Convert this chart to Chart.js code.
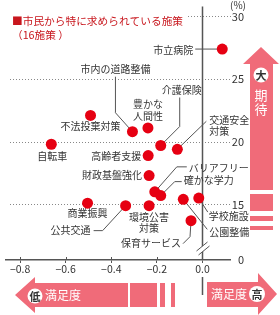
<!DOCTYPE html>
<html>
<head>
<meta charset="utf-8">
<script src="https://cdn.jsdelivr.net/npm/chart.js@4"></script>
<style>
  html, body { margin: 0; padding: 0; background: #fff; }
</style>
</head>
<body>
<canvas id="policyChart" width="280" height="315"></canvas>
<script>
// policies with satisfaction (x) and expectation % (y)
const policies = ['市立病院', '市内の道路整備', '豊かな人間性', '介護保険', '交通安全対策',
  '高齢者支援', '財政基盤強化', 'バリアフリー', '確かな学力', '商業振興', '公共交通',
  '環境公害対策', '公園整備', '学校施設', '保育サービス', '不法投棄対策', '自転車'];
const satisfaction = [0.087, -0.307, -0.239, -0.183, -0.110,
  -0.238, -0.234, -0.209, -0.183, -0.504, -0.337,
  -0.234, -0.084, -0.016, -0.050, -0.491, -0.663];
const expectation = [27.4, 20.8, 21.1, 19.7, 19.4,
  18.9, 17.3, 16.0, 15.7, 15.1, 14.9,
  14.9, 15.4, 15.5, 13.7, 22.1, 19.8];
const satTicks = [-0.8, -0.6, -0.4, -0.2, 0];
const expectTicks = [0, 15, 20, 25, 30];

// broken axis: the bottom of the axis stands for 0
const Y_MIN = 10.56, Y_MAX = 30.79;
const X_MIN = -0.864, X_MAX = 0.121;

const FONT = "'Noto Sans CJK JP', 'Noto Sans', sans-serif";
const PINK = '#f06b79';
const RED = '#e60012';
const INK = '#333';
const AXIS = '#555';

// label placement relative to each point (same order as policies)
const labelLayout = [
  { dx: -29, dy: 1, align: 'right', lead: [[-27, 0]] },
  { dx: -52, dy: -63, align: 'left', lead: [[-17, -55], [-17, -19]] },
  { dx: -15, dy: -24, align: 'left', br: 3, gap: 12 },
  { dx: 1, dy: -55, align: 'left', lead: [[19, -48], [19, -19]] },
  { dx: 32, dy: -29, align: 'left', br: 4, lead: [[29, -28]] },
  { dx: -7, dy: 1, align: 'right' },
  { dx: -7, dy: 0, align: 'right' },
  { dx: 34, dy: -24, align: 'left', lead: [[32, -25], [22, -25]] },
  { dx: 23, dy: -15, align: 'left', lead: [[21, -14], [14, -14]] },
  { dx: 0, dy: 10, align: 'center' },
  { dx: -35, dy: 25, align: 'right', lead: [[-32, 25], [-23, 25]] },
  { dx: 0, dy: 12, align: 'center', br: 4 },
  { dx: 26, dy: 33, align: 'left', lead: [[24, 30]] },
  { dx: 10, dy: 18, align: 'left', lead: [[9, 14]] },
  { dx: -10, dy: 23, align: 'right', lead: [[-8, 23], [-1, 16]] },
  { dx: 0, dy: 11, align: 'center' },
  { dx: 1, dy: 12, align: 'center' }
];

function fillPoly(ctx, pts) {
  ctx.beginPath();
  pts.forEach(([a, b], k) => k ? ctx.lineTo(a, b) : ctx.moveTo(a, b));
  ctx.closePath();
  ctx.fill();
}

function badge(ctx, cx, cy, r, ch) {
  ctx.fillStyle = '#fff';
  ctx.beginPath();
  ctx.arc(cx, cy, r, 0, Math.PI * 2);
  ctx.fill();
  ctx.fillStyle = INK;
  ctx.font = 'bold 11px ' + FONT;
  ctx.textAlign = 'center';
  ctx.textBaseline = 'middle';
  ctx.fillText(ch, cx, cy + 0.5);
}

const decorations = {
  id: 'decorations',
  beforeDatasetsDraw(chart) {
    const ctx = chart.ctx;
    const xs = chart.scales.x, ys = chart.scales.y, area = chart.chartArea;
    const x0 = Math.round(xs.getPixelForValue(0)) + 0.5;
    ctx.save();

    // dotted grid
    ctx.strokeStyle = '#888';
    ctx.lineWidth = 1;
    ctx.setLineDash([1, 2]);
    expectTicks.filter(v => v > 0).forEach(v => {
      const py = Math.round(ys.getPixelForValue(v)) + 0.5;
      ctx.beginPath();
      ctx.moveTo(v === 30 ? 188 : 10, py);
      ctx.lineTo(area.right + 2, py);
      ctx.stroke();
    });
    ctx.setLineDash([]);

    // vertical axis at 0.0
    ctx.strokeStyle = AXIS;
    ctx.lineWidth = 1.5;
    ctx.beginPath();
    ctx.moveTo(x0, area.top);
    ctx.lineTo(x0, area.bottom);
    ctx.moveTo(x0, 277);
    ctx.lineTo(x0, 295);
    ctx.stroke();

    // axis break
    ctx.fillStyle = '#fff';
    fillPoly(ctx, [[x0 - 6, 251], [x0 + 5, 242], [x0 + 7, 246], [x0 - 4, 255]]);
    ctx.lineWidth = 1;
    ctx.beginPath();
    ctx.moveTo(x0 - 6, 251); ctx.lineTo(x0 + 5, 242);
    ctx.moveTo(x0 - 4, 255); ctx.lineTo(x0 + 7, 246);
    ctx.stroke();

    // upward halves of the x tick marks
    ctx.lineWidth = 1;
    satTicks.forEach(v => {
      const px = Math.round(xs.getPixelForValue(v)) + 0.5;
      ctx.beginPath();
      ctx.moveTo(px, area.bottom - 3);
      ctx.lineTo(px, area.bottom);
      ctx.stroke();
    });

    // leader lines and labels
    const meta = chart.getDatasetMeta(0);
    ctx.font = '10px ' + FONT;
    ctx.textBaseline = 'middle';
    meta.data.forEach((pt, i) => {
      const L = labelLayout[i];
      const name = policies[i];
      if (L.lead) {
        ctx.strokeStyle = AXIS;
        ctx.lineWidth = 1;
        ctx.beginPath();
        L.lead.forEach(([dx, dy], k) => k ? ctx.lineTo(pt.x + dx, pt.y + dy) : ctx.moveTo(pt.x + dx, pt.y + dy));
        ctx.lineTo(pt.x, pt.y);
        ctx.stroke();
      }
      const lines = L.br ? [name.slice(0, L.br), name.slice(L.br)] : [name];
      ctx.fillStyle = INK;
      ctx.textAlign = L.align;
      lines.forEach((s, k) => ctx.fillText(s, pt.x + L.dx, pt.y + L.dy + k * (L.gap || 11)));
    });
    ctx.restore();
  },
  afterDraw(chart) {
    const ctx = chart.ctx;
    ctx.save();

    // title
    ctx.fillStyle = '#c8161d';
    ctx.font = '10.7px ' + FONT;
    ctx.textAlign = 'left';
    ctx.textBaseline = 'middle';
    ctx.fillText('■市民から特に求められている施策', 12, 21);
    ctx.fillText('（16施策 ）', 12, 35);

    // (%) unit
    ctx.fillStyle = INK;
    ctx.font = '10px ' + FONT;
    ctx.textAlign = 'right';
    ctx.fillText('(%)', 246, 5);

    // low satisfaction arrow
    ctx.fillStyle = PINK;
    fillPoly(ctx, [[15, 295], [35, 277], [35, 283], [128, 283], [128, 307], [35, 307], [35, 313]]);
    ctx.fillRect(130, 283, 27, 24);
    ctx.fillRect(160, 283, 5, 24);
    ctx.fillRect(171, 283, 4, 24);
    badge(ctx, 35, 296, 7.5, '低');
    ctx.fillStyle = '#fff';
    ctx.font = '12px ' + FONT;
    ctx.textAlign = 'left';
    ctx.fillText('満足度', 45, 295);

    // high satisfaction arrow
    ctx.fillStyle = PINK;
    fillPoly(ctx, [[207, 282], [258, 282], [258, 273], [277, 294], [258, 315], [258, 307], [207, 307]]);
    ctx.fillStyle = '#fff';
    ctx.font = '12px ' + FONT;
    ctx.textAlign = 'left';
    ctx.fillText('満足度', 211, 294);
    badge(ctx, 257, 294, 8, '高');

    // high expectation arrow
    ctx.fillStyle = PINK;
    fillPoly(ctx, [[261, 47], [279, 64], [273, 64], [273, 190], [250, 190], [250, 64], [243, 64]]);
    ctx.fillRect(250, 194, 23, 17);
    ctx.fillRect(250, 216, 23, 5);
    ctx.fillRect(250, 226, 23, 4);
    badge(ctx, 261, 75, 7.5, '大');
    ctx.fillStyle = '#fff';
    ctx.font = '13px ' + FONT;
    ctx.textAlign = 'center';
    ctx.fillText('期', 261, 95);
    ctx.fillText('待', 261, 109);

    ctx.restore();
  }
};

Chart.defaults.font.family = FONT;

const points = satisfaction.map((v, i) => ({ x: v, y: expectation[i] }));

new Chart(document.getElementById('policyChart'), {
  type: 'scatter',
  data: {
    datasets: [{
      data: points,
      backgroundColor: RED,
      borderWidth: 0,
      pointRadius: 5.5
    }]
  },
  options: {
    responsive: false,
    animation: false,
    layout: { padding: { left: 0, right: 36, top: 5, bottom: 37 } },
    plugins: { legend: { display: false }, tooltip: { enabled: false } },
    scales: {
      x: {
        type: 'linear',
        min: X_MIN,
        max: X_MAX,
        afterBuildTicks: scale => { scale.ticks = satTicks.map(v => ({ value: v })); },
        afterFit: scale => { scale.height = 18; },
        grid: { drawOnChartArea: false, drawTicks: true, tickLength: 3, color: AXIS },
        border: { color: AXIS, width: 1.5 },
        ticks: {
          padding: 0,
          color: INK,
          font: { size: 10.5 },
          maxRotation: 0,
          callback: v => v === 0 ? '0.0' : '−' + Math.abs(v).toFixed(1)
        }
      },
      y: {
        type: 'linear',
        position: 'right',
        min: Y_MIN,
        max: Y_MAX,
        afterBuildTicks: scale => { scale.ticks = expectTicks.map(v => ({ value: v === 0 ? Y_MIN : v })); },
        afterFit: scale => { scale.width = 14; },
        grid: { display: false, drawTicks: false },
        border: { display: false },
        ticks: {
          padding: 0,
          color: INK,
          font: { size: 11 },
          crossAlign: 'far',
          callback: v => v === Y_MIN ? '0' : v
        }
      }
    }
  },
  plugins: [decorations]
});
</script>
</body>
</html>
